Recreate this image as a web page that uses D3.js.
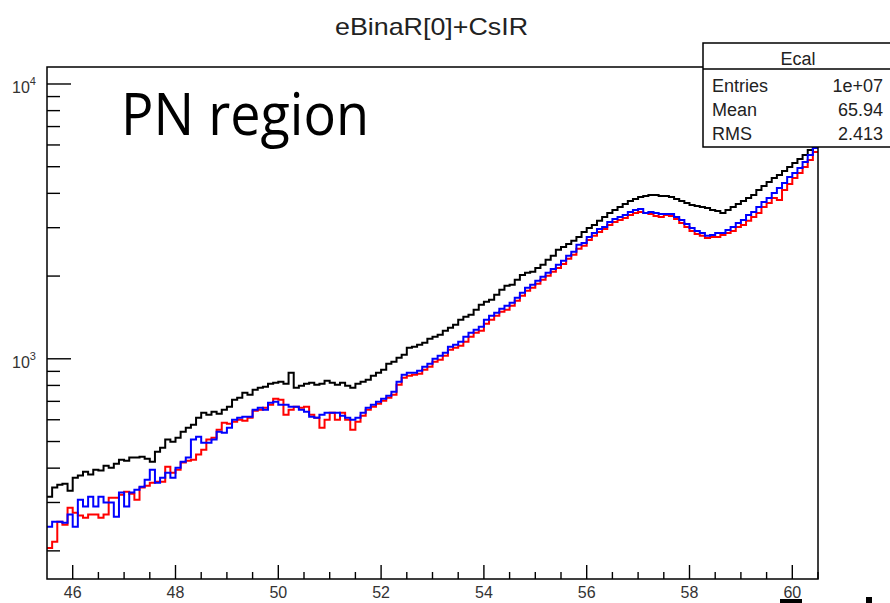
<!DOCTYPE html>
<html>
<head>
<meta charset="utf-8">
<script src="https://cdn.jsdelivr.net/npm/d3@7"></script>
<style>
  body { margin: 0; background: #fff; }
  svg text { font-family: "Liberation Sans", Arial, sans-serif; }
</style>
</head>
<body>
<div id="chart"></div>
<script>
const w = 890;
const h = 603;

// histogram binning (150 bins of 0.1 from 45.5)
const binLow = 45.5;
const binWidth = 0.1;

// bin contents
const blackCounts = [315,340,348,351,331,369,376,388,379,395,392,408,401,415,429,426,437,437,440,433,
  422,459,475,508,499,516,543,561,575,610,636,626,642,631,652,669,709,721,752,740,
  771,784,791,811,818,825,811,889,784,798,811,818,804,811,832,818,804,818,798,784,
  811,825,839,867,889,912,959,975,1008,1034,1097,1106,1124,1143,1182,1202,1223,1264,1296,1329,
  1386,1421,1445,1507,1572,1612,1639,1709,1782,1843,1858,1938,2020,2055,2072,2142,2197,2291,2369,2491,
  2554,2619,2686,2777,2896,2995,3071,3176,3284,3396,3482,3571,3661,3755,3818,3882,3915,3948,3948,3915,
  3915,3882,3818,3755,3692,3631,3601,3571,3541,3482,3453,3396,3482,3571,3661,3755,3850,3948,4117,4257,
  4402,4552,4667,4827,4991,5161,5337,5518,5755,6000];

const redCounts = [205,216,255,249,287,275,269,264,271,271,264,271,312,312,320,328,323,307,340,345,
  354,357,357,405,385,395,419,426,429,448,467,508,516,552,585,580,590,600,595,610,
  647,652,664,680,715,709,626,652,669,664,669,626,610,561,600,636,600,636,600,552,
  590,620,652,669,686,703,721,740,804,853,867,875,882,912,935,975,992,1025,1078,1097,
  1115,1153,1202,1243,1264,1341,1386,1433,1482,1507,1559,1625,1695,1767,1812,1874,1938,2004,2072,2142,
  2215,2310,2389,2512,2576,2708,2801,2896,2970,3071,3149,3202,3256,3339,3396,3424,3396,3367,3311,3284,
  3339,3311,3229,3123,3020,2920,2848,2801,2754,2777,2777,2824,2872,2920,3020,3071,3176,3284,3396,3571,
  3692,3850,3786,4117,4329,4552,4746,4991,5292,5659];

const blueCounts = [245,255,255,253,271,245,307,290,315,290,315,300,300,266,326,290,326,334,342,363,
  395,354,369,385,369,401,422,437,508,520,495,495,508,543,538,561,600,610,615,615,
  652,664,652,692,698,680,680,669,669,652,642,615,610,626,636,636,636,620,610,600,
  610,636,664,680,698,715,734,759,825,875,889,889,904,935,959,1000,1025,1051,1106,1124,
  1153,1202,1243,1275,1307,1386,1433,1470,1520,1559,1598,1667,1738,1812,1858,1922,1987,2055,2124,2197,
  2272,2369,2450,2598,2641,2777,2872,2970,3020,3149,3229,3284,3339,3424,3482,3511,3396,3424,3396,3367,
  3367,3367,3284,3202,3097,2995,2920,2872,2801,2824,2872,2872,2945,3020,3123,3202,3339,3424,3571,3723,
  3850,4015,4186,4365,4590,4746,4949,5204,5518,5852];

const xTickMajor = [46, 48, 50, 52, 54, 56, 58, 60];
const yTickMajor = [1000, 10000];
const yTickMinor = [200,300,400,500,600,700,800,900,2000,3000,4000,5000,6000,7000,8000,9000];

const statsRows = [["Entries", "1e+07"], ["Mean", "65.94"], ["RMS", "2.413"]];

const frame = {left: 47, right: 818, top: 67, bottom: 579};

const svg = d3.select("#chart")
    .append("svg")
    .attr("width", w)
    .attr("height", h);

const x = d3.scaleLinear()
    .domain([45.5, 60.5])
    .range([frame.left, frame.right]);

const y = d3.scaleLog()
    .domain([158, 11530])
    .range([frame.bottom, frame.top]);

svg.append("defs").append("clipPath")
    .attr("id", "plotclip")
    .append("rect")
    .attr("x", frame.left)
    .attr("y", frame.top)
    .attr("width", frame.right - frame.left)
    .attr("height", frame.bottom - frame.top);

// title
svg.append("text")
    .attr("x", 335)
    .attr("y", 35)
    .attr("textLength", 193)
    .attr("lengthAdjust", "spacingAndGlyphs")
    .style("font-size", "24px")
    .style("fill", "#222")
    .text("eBinaR[0]+CsIR");

// histograms drawn as steps
const stepLine = d3.line()
    .x(d => x(d[0]))
    .y(d => y(d[1]))
    .curve(d3.curveStepAfter);

function toSteps(counts) {
    const pts = counts.map((c, i) => [binLow + i * binWidth, c]);
    pts.push([binLow + counts.length * binWidth, counts[counts.length - 1]]);
    return pts;
}

const histos = [
    {counts: blackCounts, color: "#000000", width: 2},
    {counts: redCounts, color: "#ff0000", width: 2},
    {counts: blueCounts, color: "#0000ff", width: 2}
];

svg.append("g")
    .attr("clip-path", "url(#plotclip)")
    .selectAll("path")
    .data(histos)
    .enter()
    .append("path")
    .attr("d", d => stepLine(toSteps(d.counts)))
    .attr("fill", "none")
    .attr("stroke", d => d.color)
    .attr("stroke-width", d => d.width);

// x axis ticks (inside, pointing up)
const xMinor = d3.range(46, 60.51, 0.5).filter(v => xTickMajor.indexOf(v) < 0);
const xAxis = svg.append("g");
xAxis.selectAll(".xmaj")
    .data(xTickMajor)
    .enter()
    .append("line")
    .attr("x1", d => x(d)).attr("x2", d => x(d))
    .attr("y1", frame.bottom).attr("y2", frame.bottom - 14)
    .attr("stroke", "#000").attr("stroke-width", 1.4);
xAxis.selectAll(".xmin")
    .data(xMinor)
    .enter()
    .append("line")
    .attr("x1", d => x(d)).attr("x2", d => x(d))
    .attr("y1", frame.bottom).attr("y2", frame.bottom - 7)
    .attr("stroke", "#000").attr("stroke-width", 1.4);
xAxis.selectAll(".xlab")
    .data(xTickMajor)
    .enter()
    .append("text")
    .attr("x", d => x(d))
    .attr("y", 598)
    .attr("text-anchor", "middle")
    .style("font-size", "16px")
    .style("fill", "#333")
    .text(d => d);

// y axis ticks (inside, pointing right)
const yAxis = svg.append("g");
yAxis.selectAll(".ymaj")
    .data(yTickMajor)
    .enter()
    .append("line")
    .attr("x1", frame.left).attr("x2", frame.left + 24)
    .attr("y1", d => y(d)).attr("y2", d => y(d))
    .attr("stroke", "#000").attr("stroke-width", 1.4);
yAxis.selectAll(".ymin")
    .data(yTickMinor)
    .enter()
    .append("line")
    .attr("x1", frame.left).attr("x2", frame.left + 13)
    .attr("y1", d => y(d)).attr("y2", d => y(d))
    .attr("stroke", "#000").attr("stroke-width", 1.4);
const ylab = yAxis.selectAll(".ylab")
    .data(yTickMajor)
    .enter()
    .append("text")
    .attr("x", 12)
    .attr("y", d => y(d) + 9)
    .style("font-size", "16px")
    .style("fill", "#333");
ylab.append("tspan").text("10");
ylab.append("tspan")
    .attr("dy", -8)
    .style("font-size", "11px")
    .text(d => Math.round(Math.log10(d)));

// frame
svg.append("rect")
    .attr("x", frame.left)
    .attr("y", frame.top)
    .attr("width", frame.right - frame.left)
    .attr("height", frame.bottom - frame.top)
    .attr("fill", "none")
    .attr("stroke", "#000")
    .attr("stroke-width", 1.5);

// stats box
const stats = svg.append("g");
stats.append("rect")
    .attr("x", 703).attr("y", 43)
    .attr("width", 200).attr("height", 104)
    .attr("fill", "#fff")
    .attr("stroke", "#000")
    .attr("stroke-width", 1.5);
stats.append("line")
    .attr("x1", 703).attr("x2", 903)
    .attr("y1", 69).attr("y2", 69)
    .attr("stroke", "#000").attr("stroke-width", 1.5);
stats.append("text")
    .attr("x", 798).attr("y", 65)
    .attr("text-anchor", "middle")
    .style("font-size", "18px")
    .style("fill", "#222")
    .text("Ecal");
stats.selectAll(".srow")
    .data(statsRows)
    .enter()
    .append("text")
    .attr("x", 712)
    .attr("y", (d, i) => 92 + i * 24)
    .style("font-size", "18px")
    .style("fill", "#222")
    .text(d => d[0]);
stats.selectAll(".sval")
    .data(statsRows)
    .enter()
    .append("text")
    .attr("x", 883)
    .attr("y", (d, i) => 92 + i * 24)
    .attr("text-anchor", "end")
    .style("font-size", "18px")
    .style("fill", "#222")
    .text(d => d[1]);

// slide annotation
svg.append("text")
    .attr("x", 121)
    .attr("y", 135)
    .attr("textLength", 248)
    .attr("lengthAdjust", "spacingAndGlyphs")
    .style("font-family", "'Open Sans', 'Noto Sans', sans-serif")
    .style("font-size", "58px")
    .style("fill", "#000")
    .text("PN region");

// cut-off pieces of slide text at the bottom edge
svg.append("rect").attr("x", 780).attr("y", 599).attr("width", 22).attr("height", 4).attr("fill", "#000");
svg.append("rect").attr("x", 866).attr("y", 597).attr("width", 6).attr("height", 6).attr("fill", "#000");
</script>
</body>
</html>
